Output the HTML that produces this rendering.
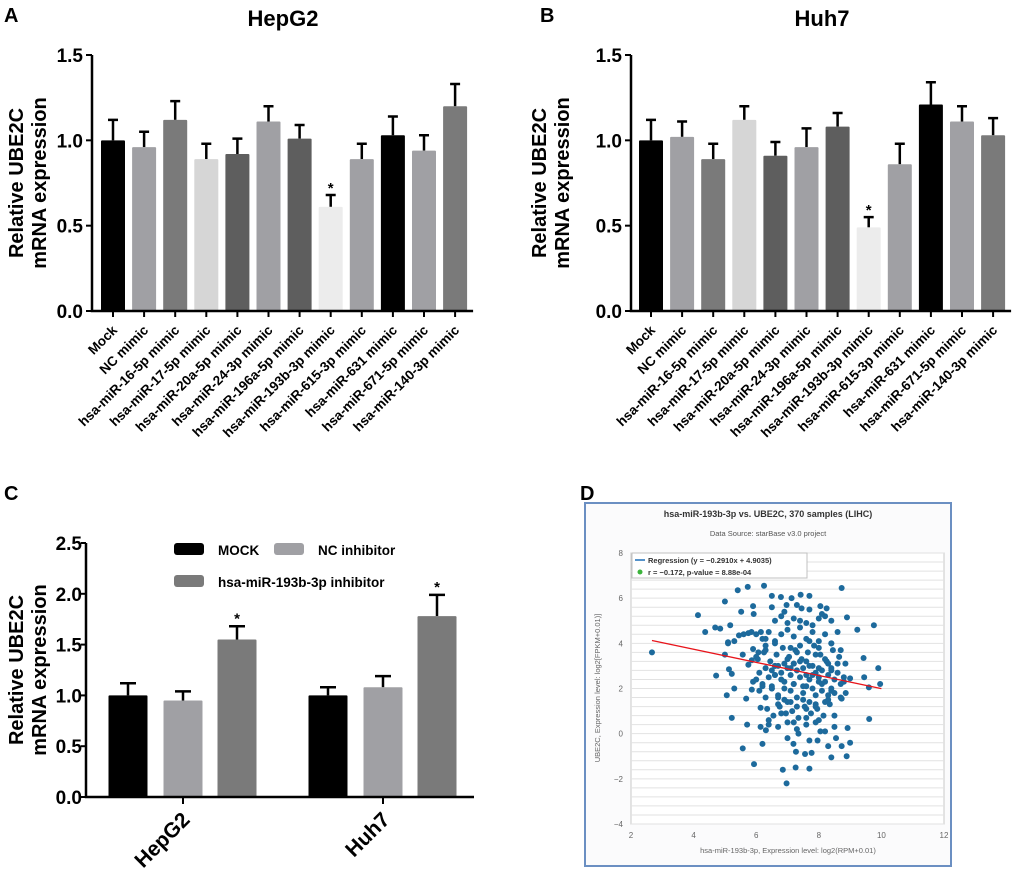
<!DOCTYPE html>
<html><head><meta charset="utf-8">
<style>
body{margin:0;background:#fff;}
svg{display:block;font-family:"Liberation Sans",Arial,sans-serif;}
.b{font-weight:bold;}
</style></head>
<body>
<svg id="fig" width="1020" height="874" viewBox="0 0 1020 874" xmlns="http://www.w3.org/2000/svg">
<g id="pa"></g>
<g id="pb"></g>
<g id="pc"></g>
<g id="pd"></g>
</svg>
<script>
const mimicCategories=["Mock","NC mimic","hsa-miR-16-5p mimic","hsa-miR-17-5p mimic","hsa-miR-20a-5p mimic","hsa-miR-24-3p mimic","hsa-miR-196a-5p mimic","hsa-miR-193b-3p mimic","hsa-miR-615-3p mimic","hsa-miR-631 mimic","hsa-miR-671-5p mimic","hsa-miR-140-3p mimic"];
const hepg2Means=[1.0,0.96,1.12,0.89,0.92,1.11,1.01,0.61,0.89,1.03,0.94,1.20];
const hepg2ErrTop=[1.12,1.05,1.23,0.98,1.01,1.20,1.09,0.68,0.98,1.14,1.03,1.33];
const huh7Means=[1.0,1.02,0.89,1.12,0.91,0.96,1.08,0.49,0.86,1.21,1.11,1.03];
const huh7ErrTop=[1.12,1.11,0.98,1.20,0.99,1.07,1.16,0.55,0.98,1.34,1.20,1.13];
const mimicColors=["#000","#a0a0a4","#7a7a7a","#d6d6d6","#5e5e5e","#a0a0a4","#5e5e5e","#ececec","#a0a0a4","#000","#a0a0a4","#7a7a7a"];
const abTicks=["0.0","0.5","1.0","1.5"];
const cGroups=["HepG2","Huh7"];
const cSeries=["MOCK","NC inhibitor","hsa-miR-193b-3p inhibitor"];
const cMeans=[[1.0,0.95,1.55],[1.0,1.08,1.78]];
const cErrTop=[[1.12,1.04,1.68],[1.08,1.19,1.99]];
const cTicks=["0.0","0.5","1.0","1.5","2.0","2.5"];
const scatterX=[2.67,4.14,4.37,4.69,4.85,4.72,5.0,5.17,5.0,5.1,5.1,5.13,5.22,5.3,5.06,5.22,5.41,5.73,6.25,5.52,5.9,5.92,5.3,5.45,5.6,5.75,5.85,6.0,6.15,6.3,5.57,5.75,5.86,5.9,6.07,5.68,5.86,6.14,5.71,5.57,5.93,6.14,6.31,6.2,6.5,6.79,6.97,7.13,7.42,7.7,7.45,6.97,6.85,7.26,7.7,8.05,8.25,8.73,8.9,9.23,9.76,9.43,9.45,9.6,9.9,9.96,9.61,8.92,9.0,8.73,8.89,8.4,9.0,8.73,8.86,8.55,8.3,7.96,7.77,7.56,7.27,7.19,
6.0,6.1,6.2,6.3,6.4,6.5,6.6,6.7,6.8,6.9,7.0,7.1,7.2,7.3,7.4,7.5,7.6,7.7,7.8,7.9,8.0,8.1,8.2,8.3,8.4,8.5,8.6,8.7,8.8,
6.05,6.25,6.45,6.65,6.85,7.05,7.25,7.45,7.65,7.85,8.05,8.25,8.45,8.65,8.85,
6.1,6.3,6.5,6.7,6.9,7.1,7.3,7.5,7.7,7.9,8.1,8.3,8.5,8.7,
6.2,6.4,6.6,6.8,7.0,7.2,7.4,7.6,7.8,8.0,8.2,8.4,8.6,
6.35,6.55,6.75,6.95,7.15,7.35,7.55,7.75,7.95,8.15,8.35,
6.6,6.8,7.0,7.2,7.4,7.6,7.8,8.0,8.2,8.4,
6.4,6.7,7.0,7.3,7.6,7.9,8.2,8.5,
6.5,6.9,7.2,7.5,7.8,8.1,8.4,
6.6,6.9,7.1,7.4,7.7,8.0,8.3,
6.7,7.0,7.3,7.6,7.9,8.2,
6.3,6.6,7.1,7.4,7.7,8.0,8.4,8.7,
6.5,6.9,7.3,7.7,8.1,
5.9,6.2,6.5,6.8,7.2,7.6,8.0,8.4,8.8,
6.4,6.8,7.2,7.6,8.0,8.5,
6.0,6.3,6.6,7.0,7.3,7.6,7.9,8.2,8.6,
6.7,7.1,7.5,7.9,8.3,
7.0,7.35,7.7,8.05,
6.6,7.2,7.8,8.4];
const scatterY=[3.6,5.25,4.5,4.7,4.65,2.57,5.85,4.8,3.5,4.05,4.0,2.85,2.65,2.0,1.7,0.7,6.35,6.5,6.55,5.4,5.65,5.3,4.1,4.35,4.4,4.45,4.5,4.4,4.5,4.2,3.5,3.05,3.25,3.75,3.6,1.55,1.95,1.15,0.4,-0.65,-1.35,0.3,0.15,-0.45,6.1,6.05,5.7,6.0,6.15,6.1,5.55,-2.2,-1.6,-1.5,-1.55,5.65,5.55,6.45,5.15,4.6,4.8,3.35,2.5,2.05,2.9,2.2,0.65,0.25,-0.4,-0.55,-1.0,-1.05,2.45,1.55,1.8,-0.2,-0.55,-0.3,-0.85,-0.9,-0.8,-0.45,
2.4,2.7,2.2,2.9,2.5,2.8,2.6,3.0,2.7,2.3,2.9,2.6,3.1,2.8,2.5,2.9,2.6,2.4,3.0,2.7,2.5,2.8,2.3,2.6,2.9,2.4,2.7,2.2,2.5,
3.3,3.6,3.2,3.5,3.8,3.4,3.7,3.3,3.6,3.9,3.5,3.2,3.7,3.4,3.1,
1.9,1.6,2.0,1.7,1.5,1.9,1.6,1.8,1.4,1.7,1.9,1.5,1.8,1.6,
4.2,4.5,4.1,4.4,4.6,4.3,4.7,4.2,4.5,4.1,4.4,4.0,4.5,
1.1,0.8,1.2,0.9,1.0,0.7,1.2,0.9,1.1,0.8,1.3,
5.0,5.2,4.9,5.1,5.0,4.9,4.8,5.1,5.2,5.0,
0.4,0.3,0.5,0.2,0.4,0.5,0.1,0.3,
2.1,2.0,2.2,2.1,2.0,2.2,1.9,
3.0,3.1,2.9,3.2,3.0,2.9,3.1,
1.3,1.4,1.2,1.1,1.3,1.4,
3.9,4.0,3.8,3.9,4.1,3.8,4.0,3.7,
5.6,5.4,5.7,5.5,5.3,
2.3,2.1,2.0,2.4,2.2,2.1,2.3,2.0,2.3,
0.6,0.9,0.5,0.7,0.6,0.8,
3.4,3.7,3.0,3.3,3.6,3.2,3.5,3.3,3.1,
1.6,1.4,1.5,1.2,1.7,
-0.2,0.0,-0.3,0.1,
2.6,3.1,2.6,2.8];
const NS="http://www.w3.org/2000/svg";
function el(parent,tag,attrs,text){const e=document.createElementNS(NS,tag);for(const k in attrs)e.setAttribute(k,attrs[k]);if(text!==undefined)e.textContent=text;parent.appendChild(e);return e;}

function barPanel(gid,axisX,x0,step,means,tops,title,titleX,letter,letterX,ylabX){
  const g=document.getElementById(gid);
  const y0=311,yTop=55,yMax=1.5;
  const ys=v=>y0-(v/yMax)*(y0-yTop);
  let t=el(g,'text',{x:letterX,y:22,'font-size':20,'class':'b'},letter);
  
  t=el(g,'text',{x:titleX,y:26,'font-size':22,'class':'b','text-anchor':'middle'},title);
  
  t=el(g,'text',{transform:`translate(${ylabX},183) rotate(-90)`,'font-size':20,'class':'b','text-anchor':'middle'},'Relative UBE2C');
  
  t=el(g,'text',{transform:`translate(${ylabX+23},183) rotate(-90)`,'font-size':20,'class':'b','text-anchor':'middle'},'mRNA expression');
  
  abTicks.forEach(s=>{const y=ys(parseFloat(s));
    const tk=el(g,'line',{x1:axisX-6,x2:axisX,y1:y,y2:y,stroke:'#000','stroke-width':2});
    
    const tl=el(g,'text',{x:axisX-9,y:y+7,'font-size':19,'class':'b','text-anchor':'end'},s);
    });
  means.forEach((m,i)=>{const cx=x0+i*step,w=24;
    const eb=el(g,'path',{d:`M${cx} ${ys(m)}V${ys(tops[i])}M${cx-5} ${ys(tops[i])}H${cx+5}`,stroke:'#000','stroke-width':2.5,fill:'none'});
    
    const r=el(g,'rect',{x:cx-w/2,y:ys(m),width:w,height:y0-ys(m),fill:mimicColors[i],rx:1});
    
    if(m<0.7){const st=el(g,'text',{x:cx,y:ys(tops[i])-2,'font-size':15,'class':'b','text-anchor':'middle'},'*');
      }
    const tk=el(g,'line',{x1:cx,x2:cx,y1:y0,y2:y0+6,stroke:'#000','stroke-width':2});
    
    const lb=el(g,'text',{transform:`translate(${cx+5},${y0+20}) rotate(-45)`,'font-size':13.5,'class':'b','text-anchor':'end'},mimicCategories[i]);
    
  });
  const ax=el(g,'path',{d:`M${axisX} ${yTop}V${y0}H${x0+11*step+18}`,stroke:'#000','stroke-width':2.5,fill:'none'});
  
}
barPanel('pa',92,113,31.1,hepg2Means,hepg2ErrTop,'HepG2',283,'A',4,23);
barPanel('pb',631,651,31.1,huh7Means,huh7ErrTop,'Huh7',822,'B',540,546);

(function(){
  const g=document.getElementById('pc');
  const y0=797,yTop=543,axisX=86;
  const ys=v=>y0-(v/2.5)*(y0-yTop);
  const groupCenters=[183,383],off=[-55,0,54],cols=['#000','#a0a0a4','#7a7a7a'];
  let t=el(g,'text',{x:4,y:500,'font-size':20,'class':'b'},'C');
  
  t=el(g,'text',{transform:`translate(23,670) rotate(-90)`,'font-size':20,'class':'b','text-anchor':'middle'},'Relative UBE2C');
  
  t=el(g,'text',{transform:`translate(46,670) rotate(-90)`,'font-size':20,'class':'b','text-anchor':'middle'},'mRNA expression');
  
  cTicks.forEach(s=>{const y=ys(parseFloat(s));
    const tk=el(g,'line',{x1:axisX-5,x2:axisX,y1:y,y2:y,stroke:'#000','stroke-width':2});
    
    const tl=el(g,'text',{x:axisX-4,y:y+7,'font-size':19,'class':'b','text-anchor':'end'},s);
    });
  cGroups.forEach((gn,gi)=>{
    cMeans[gi].forEach((m,si)=>{const cx=groupCenters[gi]+off[si],w=39;
      const eb=el(g,'path',{d:`M${cx} ${ys(m)}V${ys(cErrTop[gi][si])}M${cx-8} ${ys(cErrTop[gi][si])}H${cx+8}`,stroke:'#000','stroke-width':2.5,fill:'none'});
      
      const r=el(g,'rect',{x:cx-w/2,y:ys(m),width:w,height:y0-ys(m),fill:cols[si],rx:1});
      
      if(si===2){const st=el(g,'text',{x:cx,y:ys(cErrTop[gi][si])-3,'font-size':15,'class':'b','text-anchor':'middle'},'*');
        }
    });
    const cx=groupCenters[gi];
    const tk=el(g,'line',{x1:cx,x2:cx,y1:y0,y2:y0+7,stroke:'#000','stroke-width':2});
    
    const lb=el(g,'text',{transform:`translate(${cx+8},${y0+24}) rotate(-45)`,'font-size':21,'class':'b','text-anchor':'end'},gn);
    
  });
  const ax=el(g,'path',{d:`M${axisX} ${yTop}V${y0}H474`,stroke:'#000','stroke-width':2.5,fill:'none'});
  
  const lp=[[174,549,218],[274,549,318],[174,581,218]];
  cSeries.forEach((s,i)=>{
    const sw=el(g,'rect',{x:lp[i][0],y:lp[i][1]-6,width:30,height:12,rx:3,fill:cols[i]});
    
    const tx=el(g,'text',{x:lp[i][2],y:lp[i][1]+6,'font-size':13.5,'class':'b'},s);
    
  });
})();

(function(){
  const g=document.getElementById('pd');
  const px0=631,px1=944,py0=824,py1=553;
  const xs=v=>px0+(v-2)/10*(px1-px0);
  const ys=v=>py0-(v+4)/12*(py0-py1);
  let t=el(g,'text',{x:580,y:500,'font-size':20,'class':'b'},'D');
  
  const box=el(g,'rect',{x:585,y:503,width:366,height:363,fill:'#fbfbfc',stroke:'#6b8fc2','stroke-width':2});
  
  const pa=el(g,'rect',{x:px0,y:py1,width:px1-px0,height:py0-py1,fill:'#fff',stroke:'#c8c8c8','stroke-width':1});
  
  for(let v=-4;v<=8.01;v+=0.4){const y=ys(v);
    const gl=el(g,'line',{x1:px0,x2:px1,y1:y,y2:y,stroke:'#e2e2e2','stroke-width':1});
    }
  [-4,-2,0,2,4,6,8].forEach(v=>{const tl=el(g,'text',{x:px0-8,y:ys(v)+3,'font-size':8,fill:'#666','text-anchor':'end'},String(v).replace('-','\u2212'));
    });
  [2,4,6,8,10,12].forEach(v=>{const tl=el(g,'text',{x:xs(v),y:py0+14,'font-size':8,fill:'#666','text-anchor':'middle'},String(v));
    });
  t=el(g,'text',{x:768,y:517,'font-size':9,'class':'b',fill:'#333','text-anchor':'middle'},'hsa-miR-193b-3p vs. UBE2C, 370 samples (LIHC)');
  
  t=el(g,'text',{x:768,y:536,'font-size':7.5,fill:'#555','text-anchor':'middle'},'Data Source: starBase v3.0 project');
  
  t=el(g,'text',{x:788,y:853,'font-size':7.5,fill:'#666','text-anchor':'middle'},'hsa-miR-193b-3p, Expression level: log2(RPM+0.01)');
  
  t=el(g,'text',{transform:`translate(600,688) rotate(-90)`,'font-size':7.5,fill:'#666','text-anchor':'middle'},'UBE2C, Expression level: log2[FPKM+0.01)]');
  
  scatterX.forEach((x,i)=>{const c=el(g,'circle',{cx:xs(x),cy:ys(scatterY[i]),r:3,fill:'#1d6a9c'});
    });
  const rl=el(g,'line',{x1:xs(2.67),y1:ys(-0.291*2.67+4.9035),x2:xs(10),y2:ys(-0.291*10+4.9035),stroke:'#e8141b','stroke-width':1.3});
  
  const lg=el(g,'rect',{x:632,y:553,width:175,height:25,fill:'#fff',stroke:'#c0c0c0','stroke-width':1});
  
  const ll=el(g,'line',{x1:635,x2:645,y1:560,y2:560,stroke:'#1d6fb8','stroke-width':1.5});
  
  t=el(g,'text',{x:648,y:563,'font-size':7.5,'class':'b',fill:'#333'},'Regression (y = \u22120.2910x + 4.9035)');
  
  const ld=el(g,'circle',{cx:640,cy:572,r:2.5,fill:'#3cb43c'});
  
  t=el(g,'text',{x:648,y:575,'font-size':7.5,'class':'b',fill:'#333'},'r = \u22120.172, p-value = 8.88e-04');
  
})();
</script>
</body></html>
